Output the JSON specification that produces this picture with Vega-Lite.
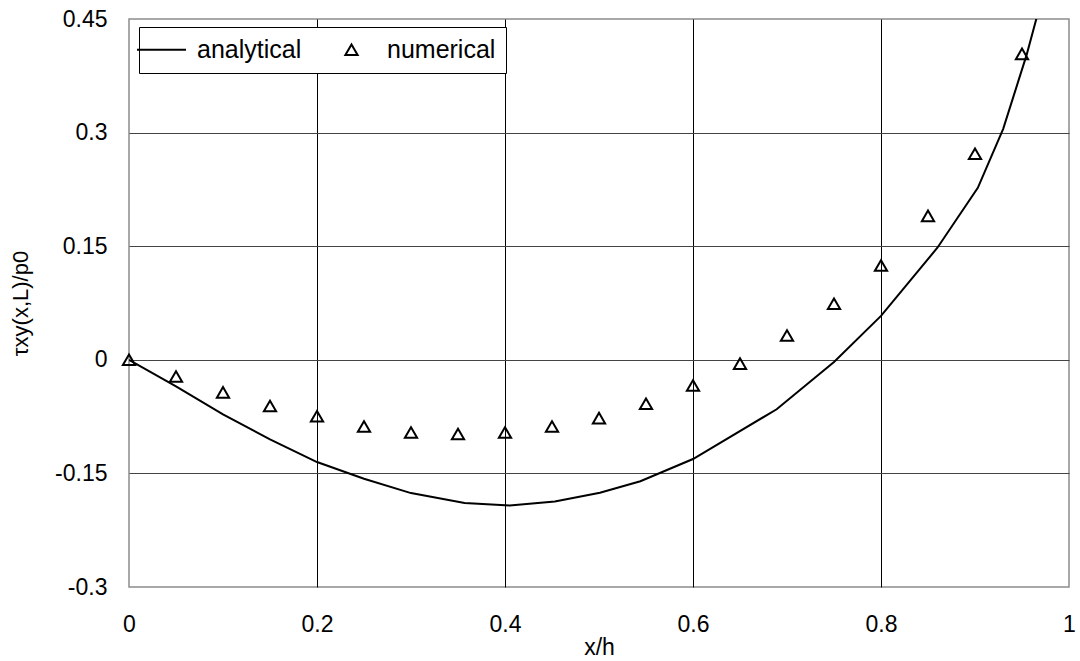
{
  "$schema": "https://vega.github.io/schema/vega-lite/v6.json",
  "width": 940,
  "height": 568,
  "autosize": {"type": "none"},
  "padding": {"left": 129, "top": 19, "right": 11, "bottom": 74},
  "background": "white",
  "config": {
    "font": "Liberation Sans",
    "view": {"stroke": "#8c8c8c", "strokeWidth": 1.5},
    "axis": {
      "labelFont": "Liberation Sans",
      "labelFontSize": 23,
      "labelColor": "black",
      "titleFont": "Liberation Sans",
      "titleFontSize": 23,
      "titleFontWeight": "normal",
      "titleColor": "black",
      "ticks": false,
      "domain": false,
      "gridWidth": 1,
      "labelFlush": false,
      "labelOverlap": false
    }
  },
  "datasets": {
    "analytical": [
      {"x": 0, "y": 0},
      {"x": 0.05, "y": -0.035},
      {"x": 0.1, "y": -0.072},
      {"x": 0.15, "y": -0.105},
      {"x": 0.2, "y": -0.135},
      {"x": 0.25, "y": -0.157},
      {"x": 0.3, "y": -0.176},
      {"x": 0.357, "y": -0.189},
      {"x": 0.405, "y": -0.1925},
      {"x": 0.453, "y": -0.187},
      {"x": 0.501, "y": -0.1756},
      {"x": 0.544, "y": -0.1603},
      {"x": 0.6, "y": -0.131},
      {"x": 0.689, "y": -0.0653},
      {"x": 0.75, "y": -0.003},
      {"x": 0.8, "y": 0.058},
      {"x": 0.86, "y": 0.148},
      {"x": 0.903, "y": 0.227},
      {"x": 0.93, "y": 0.305},
      {"x": 0.955, "y": 0.403},
      {"x": 0.975, "y": 0.495}
    ],
    "numerical": [
      {"x": 0, "y": 0, "series": "numerical"},
      {"x": 0.05, "y": -0.022, "series": "numerical"},
      {"x": 0.1, "y": -0.043, "series": "numerical"},
      {"x": 0.15, "y": -0.061, "series": "numerical"},
      {"x": 0.2, "y": -0.0745, "series": "numerical"},
      {"x": 0.25, "y": -0.088, "series": "numerical"},
      {"x": 0.3, "y": -0.096, "series": "numerical"},
      {"x": 0.35, "y": -0.098, "series": "numerical"},
      {"x": 0.4, "y": -0.096, "series": "numerical"},
      {"x": 0.45, "y": -0.088, "series": "numerical"},
      {"x": 0.5, "y": -0.077, "series": "numerical"},
      {"x": 0.55, "y": -0.058, "series": "numerical"},
      {"x": 0.6, "y": -0.034, "series": "numerical"},
      {"x": 0.65, "y": -0.005, "series": "numerical"},
      {"x": 0.7, "y": 0.032, "series": "numerical"},
      {"x": 0.75, "y": 0.074, "series": "numerical"},
      {"x": 0.8, "y": 0.1245, "series": "numerical"},
      {"x": 0.85, "y": 0.19, "series": "numerical"},
      {"x": 0.9, "y": 0.272, "series": "numerical"},
      {"x": 0.95, "y": 0.404, "series": "numerical"}
    ]
  },
  "encoding": {
    "x": {
      "field": "x",
      "type": "quantitative",
      "scale": {"domain": [0, 1], "nice": false, "zero": false},
      "axis": {
        "title": "x/h",
        "values": [0, 0.2, 0.4, 0.6, 0.8, 1],
        "labelExpr": "toString(datum.value)",
        "labelPadding": 26,
        "titlePadding": 0,
        "gridColor": "black",
        "gridOpacity": {"condition": {"test": "datum.value == 0 || datum.value == 1", "value": 0}, "value": 1}
      }
    },
    "y": {
      "field": "y",
      "type": "quantitative",
      "scale": {"domain": [-0.3, 0.45], "nice": false, "zero": false},
      "axis": {
        "title": "τxy(x,L)/p0",
        "values": [-0.3, -0.15, 0, 0.15, 0.3, 0.45],
        "labelExpr": "toString(datum.value)",
        "labelPadding": 22,
        "titlePadding": 22,
        "titleFontSize": 22,
        "gridColor": "#444444",
        "gridOpacity": {"condition": {"test": "datum.value == -0.3 || datum.value == 0.45", "value": 0}, "value": 1}
      }
    }
  },
  "layer": [
    {
      "data": {"name": "analytical"},
      "mark": {"type": "line", "color": "black", "strokeWidth": 2, "clip": true}
    },
    {
      "data": {"name": "numerical"},
      "mark": {"type": "point", "filled": false, "stroke": "black", "strokeWidth": 2, "size": 150, "opacity": 1},
      "encoding": {
        "shape": {
          "field": "series",
          "type": "nominal",
          "scale": {"domain": ["analytical", "numerical"], "range": ["M-4,0H4", "triangle-up"]},
          "legend": {
            "title": null,
            "orient": "none",
            "legendX": 10,
            "legendY": 8,
            "direction": "horizontal",
            "labelFont": "Liberation Sans",
            "labelFontSize": 25,
            "labelColor": "black",
            "symbolSize": 150,
            "symbolStrokeWidth": 2,
            "symbolStrokeColor": "black",
            "symbolFillColor": "transparent",
            "symbolOpacity": 1,
            "labelOffset": 23,
            "columnPadding": 37,
            "padding": 10,
            "strokeColor": "black",
            "fillColor": "white",
            "cornerRadius": 0
          }
        }
      }
    }
  ]
}
